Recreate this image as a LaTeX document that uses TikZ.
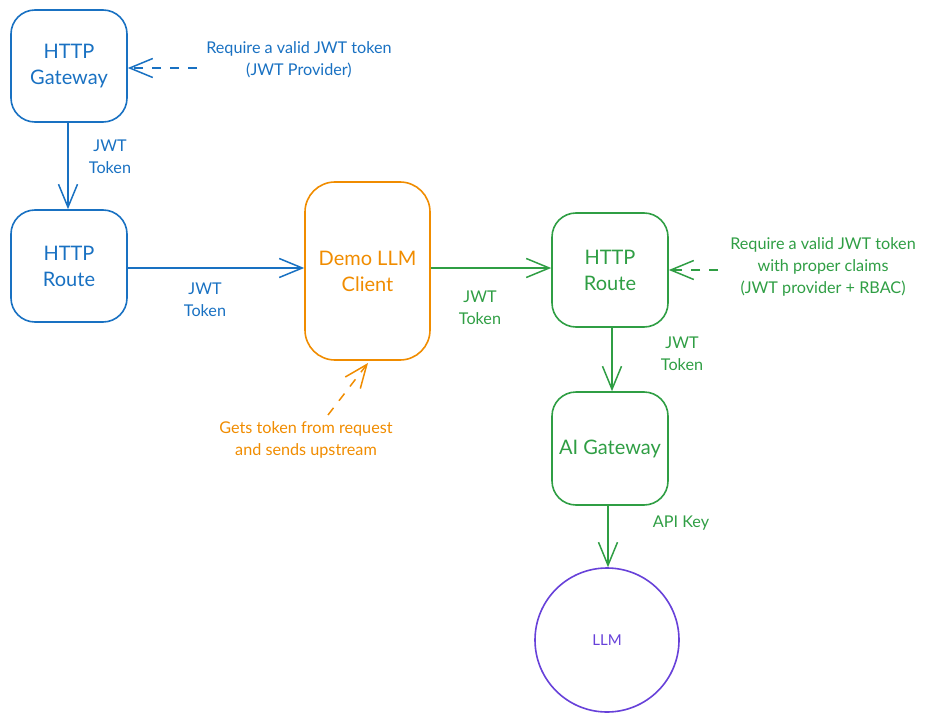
\documentclass[tikz,border=0pt]{standalone}
\usepackage{fontspec}
\setmainfont{Lato}
\usetikzlibrary{arrows.meta}
\definecolor{cblue}{HTML}{1971C2}
\definecolor{corange}{HTML}{F08C00}
\definecolor{cgreen}{HTML}{2F9E44}
\definecolor{cpurple}{HTML}{6741D9}
\begin{document}
\begin{tikzpicture}[x=1pt,y=-1pt,
  box/.style={draw, line width=1.6pt, rounded corners=24pt, align=center,
    font=\fontsize{20}{26}\selectfont, inner sep=0pt},
  lbl/.style={align=center, font=\fontsize{16.2}{22}\selectfont},
  conn/.style={line width=1.5pt, -{Straight Barb[length=23pt,width=19pt,line width=1.5pt]}},
  dconn/.style={conn, dash pattern=on 9pt off 9pt}]
\useasboundingbox (0,0) rectangle (928,722);
% nodes
\node[box, cblue, minimum width=116pt, minimum height=112pt] (gw) at (69,66) {HTTP\\Gateway};
\node[box, cblue, minimum width=116pt, minimum height=112pt] (rt) at (69,266) {HTTP\\Route};
\node[box, corange, minimum width=125pt, minimum height=178pt, rounded corners=30pt] (demo) at (367.5,271) {Demo LLM\\Client};
\node[box, cgreen, minimum width=116pt, minimum height=114pt] (grt) at (610,270) {HTTP\\Route};
\node[box, cgreen, minimum width=116pt, minimum height=113pt] (aig) at (610,448.5) {AI Gateway};
\node[circle, draw=cpurple, line width=1.6pt, minimum size=144pt, inner sep=0pt, text=cpurple,
  font=\fontsize{15}{16}\selectfont] (llm) at (607,640) {LLM};
% annotation texts
\node[lbl, cblue] (t1) at (299,60) {Require a valid JWT token\\(JWT Provider)};
\node[lbl, cgreen] (t2) at (823,267) {Require a valid JWT token\\with proper claims\\(JWT provider + RBAC)};
\node[lbl, corange] (t3) at (306,440) {Gets token from request\\and sends upstream};
% connector labels
\node[lbl, cblue] (l1) at (110,157) {JWT\\Token};
\node[lbl, cblue] (l2) at (205,300) {JWT\\Token};
\node[lbl, cgreen] (l3) at (480,308) {JWT\\Token};
\node[lbl, cgreen] (l4) at (682,354) {JWT\\Token};
\node[lbl, cgreen] (l5) at (681,523) {API Key};
% connectors
\coordinate (d1) at (197,68);
\coordinate (d2) at (718,270);
\coordinate (d3) at (328,415);
\draw[conn, cblue] (gw.south -| 68,0) -- (rt.north -| 68,0);
\draw[conn, cblue] (rt.east |- 0,268) -- (demo.west |- 0,268);
\draw[conn, cgreen] (demo.east |- 0,268) -- (grt.west |- 0,268);
\draw[conn, cgreen] (grt.south -| 612,0) -- (aig.north -| 612,0);
\draw[conn, cgreen] (aig.south -| 608,0) -- (llm.north -| 608,0);
\draw[dconn, cblue] (d1) -- (gw.east |- 0,68);
\draw[dconn, cgreen] (d2) -- (grt.east |- 0,270);
\draw[dconn, corange] (d3) -- (368,363);
\end{tikzpicture}
\end{document}
